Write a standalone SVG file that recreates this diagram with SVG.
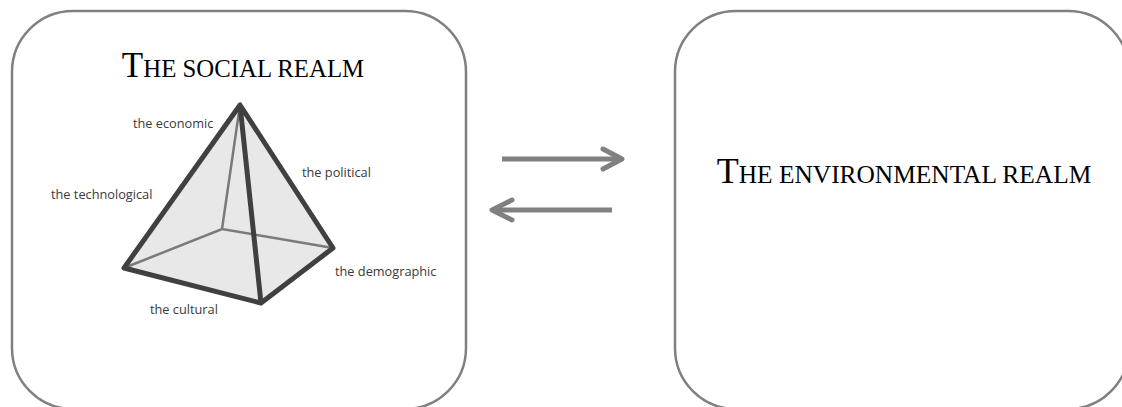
<svg xmlns="http://www.w3.org/2000/svg" width="1122" height="407" viewBox="0 0 1122 407">
<style>
.box{fill:#fff;stroke:#808080;stroke-width:2.5}
.title{font-family:"Liberation Serif","Times New Roman",serif;fill:#000}
.lbl{font-family:"Open Sans","Liberation Sans",sans-serif;font-size:12.75px;fill:#3a3a3a}
.dark{stroke:#404040;stroke-width:5;stroke-linejoin:round;stroke-linecap:round;fill:none}
.thin{stroke:#7a7a7a;stroke-width:2.5;stroke-linecap:round;fill:none}
.conn{stroke:#808080;stroke-width:5;fill:none}
.head{stroke:#808080;stroke-width:5;fill:none;stroke-linecap:round;stroke-linejoin:round}
</style>
<rect width="1122" height="407" fill="#fff"/>
<g id="social">
<rect class="box" x="12" y="11" width="454" height="398" rx="61" ry="61"/>
<text class="title" x="243" y="77" text-anchor="middle"><tspan font-size="35">T</tspan><tspan font-size="24.8">HE SOCIAL REALM</tspan></text>
<g id="pyramid">
<polygon points="240,105 124,268 261,303 333,248" fill="#e8e8e8"/>
<path class="thin" d="M240,105 L222,229 M124,268 L222,229 L333,248"/>
<path class="dark" d="M240,105 L124,268 L261,303 L333,248 Z M240,105 L261,303"/>
</g>
<text class="lbl" x="133" y="128">the economic</text>
<text class="lbl" x="302" y="177">the political</text>
<text class="lbl" x="51" y="199">the technological</text>
<text class="lbl" x="335" y="276">the demographic</text>
<text class="lbl" x="150" y="314">the cultural</text>
</g>
<g id="environmental">
<rect class="box" x="675" y="11" width="454" height="398" rx="61" ry="61"/>
<text class="title" x="904" y="183" text-anchor="middle"><tspan font-size="36">T</tspan><tspan font-size="25.4">HE ENVIRONMENTAL REALM</tspan></text>
</g>
<g id="connectors">
<line class="conn" x1="502" y1="159" x2="621" y2="159"/>
<polyline class="head" points="603,149 622,159 603,169"/>
<line class="conn" x1="612" y1="210" x2="493" y2="210"/>
<polyline class="head" points="512,200 492,210 512,220"/>
</g>
</svg>
